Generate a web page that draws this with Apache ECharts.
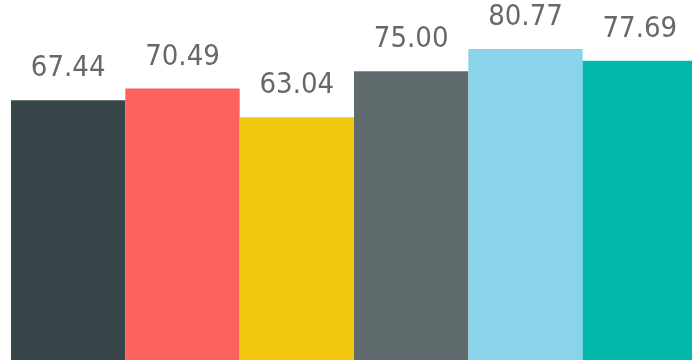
<!DOCTYPE html>
<html>
<head>
<meta charset="utf-8">
<script src="https://cdn.jsdelivr.net/npm/echarts@6/dist/echarts.min.js"></script>
<style>
  html, body { margin: 0; padding: 0; background: #ffffff; overflow: hidden; }
  /* the chart is a little wider than the page, so the last bar is cut by the right edge */
  #chart { width: 698px; height: 361px; }
</style>
</head>
<body>
<div id="chart"></div>
<script>
// Categories and their values, one bar each
const categories = ['A', 'B', 'C', 'D', 'E', 'F'];
const values = [67.44, 70.49, 63.04, 75.00, 80.77, 77.69];
const barColors = ['#374649', '#FD625E', '#F2C80F', '#5F6B6D', '#8AD4EB', '#01B8AA'];

const chart = echarts.init(document.getElementById('chart'), null, { renderer: 'canvas' });

chart.setOption({
  animation: false,
  backgroundColor: '#ffffff',
  grid: { left: 11, right: 1, top: 0, bottom: 1, containLabel: false },
  xAxis: {
    type: 'category',
    data: categories,
    show: false
  },
  yAxis: {
    type: 'value',
    min: 0,
    max: 93.5,
    show: false
  },
  series: [{
    type: 'bar',
    barCategoryGap: '0%',
    data: values.map((v, i) => ({ value: v, itemStyle: { color: barColors[i] } })),
    label: {
      show: true,
      position: 'top',
      distance: 17,
      color: '#686868',
      fontFamily: 'DejaVu Sans Condensed',
      fontSize: 29,
      formatter: p => p.value.toFixed(2)
    }
  }]
});
</script>
</body>
</html>
